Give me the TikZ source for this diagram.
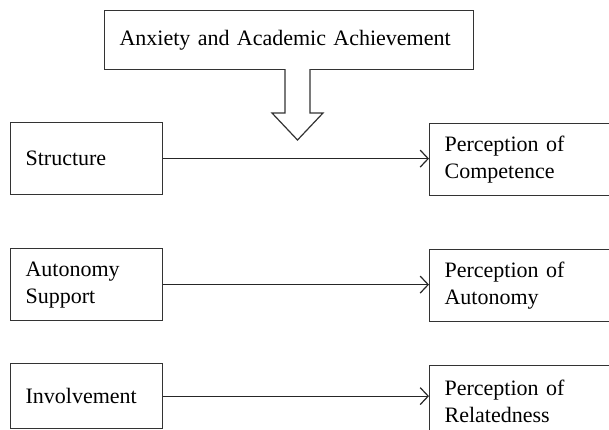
\documentclass[tikz,border=0pt]{standalone}
\usepackage{fontspec}
\setmainfont{Liberation Serif}
\usetikzlibrary{arrows.meta}
\begin{document}
\begin{tikzpicture}[x=1pt,y=-1pt,
    box/.style={draw=black!80,line width=1.2pt,anchor=north west,align=left,
      inner xsep=15pt,inner ysep=0pt,font=\fontsize{22}{27}\selectfont},
    leftbox/.style={box,minimum width=152pt,minimum height=72pt,text width=122pt},
    rightbox/.style={box,minimum width=220pt,minimum height=72pt,text width=190pt},
    link/.style={draw=black!85,line width=1.2pt,
      -{Straight Barb[length=8pt,width=17pt,line width=1.2pt]}}]
    \useasboundingbox (0,0) rectangle (609,429);
    \clip (0,0) rectangle (609,429);
    % top box and the big arrow under it
    \node[box,minimum width=369pt,minimum height=59pt,text width=339pt] (anx) at (104,10) {Anxiety and Academic Achievement};
    \draw[draw=black!80,line width=1.2pt,fill=white] (285,69) -- (285,113) -- (272,113) -- (297.5,140)
        -- (323,113) -- (310,113) -- (310,69);
    % left column
    \node[leftbox] (struct) at (10,122) {Structure};
    \node[leftbox] (autsup) at (10,248) {Autonomy\\Support};
    \node[leftbox,minimum height=65pt] (involv) at (10,363) {Involvement};
    % right column
    \node[rightbox] (pcomp) at (429,123) {Perception of\\Competence};
    \node[rightbox] (paut) at (429,249) {Perception of\\Autonomy};
    \node[rightbox] (prel) at (429,365) {Perception of\\Relatedness};
    % links
    \draw[link] (struct.east) -- (struct.east -| pcomp.west);
    \draw[link] (autsup.east) -- (autsup.east -| paut.west);
    \draw[link] (involv.east) -- (involv.east -| prel.west);
\end{tikzpicture}
\end{document}
